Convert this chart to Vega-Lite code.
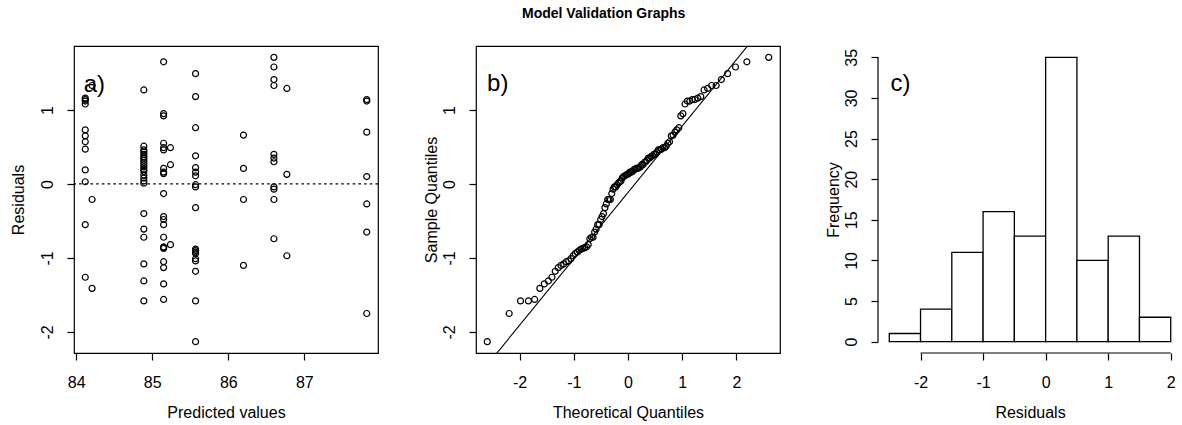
{
  "$schema": "https://vega.github.io/schema/vega-lite/v6.json",
  "autosize": {"type": "none"},
  "padding": {"left": 74, "top": 46, "right": 1108, "bottom": 72},
  "background": "white",
  "title": {"text": "Model Validation Graphs", "fontSize": 14, "fontWeight": "bold", "font": "Liberation Sans", "anchor": "middle", "offset": 24, "dx": 8, "color": "black"},
  "data": {"values": [
    {"p": 85.57, "r": -2.13, "q": -2.597},
    {"p": 87.82, "r": -1.75, "q": -2.193},
    {"p": 84.89, "r": -1.58, "q": -1.984},
    {"p": 85.57, "r": -1.58, "q": -1.838},
    {"p": 85.15, "r": -1.56, "q": -1.723},
    {"p": 84.21, "r": -1.41, "q": -1.627},
    {"p": 85.15, "r": -1.35, "q": -1.544},
    {"p": 84.89, "r": -1.31, "q": -1.470},
    {"p": 84.12, "r": -1.26, "q": -1.404},
    {"p": 85.57, "r": -1.18, "q": -1.343},
    {"p": 85.15, "r": -1.13, "q": -1.287},
    {"p": 86.2, "r": -1.10, "q": -1.235},
    {"p": 84.89, "r": -1.08, "q": -1.186},
    {"p": 85.15, "r": -1.05, "q": -1.140},
    {"p": 85.57, "r": -1.04, "q": -1.095},
    {"p": 85.57, "r": -1.01, "q": -1.053},
    {"p": 86.77, "r": -0.97, "q": -1.013},
    {"p": 85.57, "r": -0.94, "q": -0.974},
    {"p": 85.57, "r": -0.92, "q": -0.937},
    {"p": 85.57, "r": -0.90, "q": -0.901},
    {"p": 85.57, "r": -0.88, "q": -0.866},
    {"p": 85.15, "r": -0.87, "q": -0.832},
    {"p": 85.15, "r": -0.86, "q": -0.799},
    {"p": 85.15, "r": -0.85, "q": -0.766},
    {"p": 85.24, "r": -0.82, "q": -0.735},
    {"p": 86.6, "r": -0.74, "q": -0.704},
    {"p": 84.89, "r": -0.72, "q": -0.674},
    {"p": 85.15, "r": -0.72, "q": -0.645},
    {"p": 87.82, "r": -0.65, "q": -0.616},
    {"p": 84.89, "r": -0.61, "q": -0.588},
    {"p": 84.12, "r": -0.55, "q": -0.560},
    {"p": 85.15, "r": -0.55, "q": -0.533},
    {"p": 85.15, "r": -0.48, "q": -0.505},
    {"p": 85.15, "r": -0.44, "q": -0.479},
    {"p": 84.89, "r": -0.40, "q": -0.452},
    {"p": 85.57, "r": -0.32, "q": -0.426},
    {"p": 87.82, "r": -0.27, "q": -0.401},
    {"p": 84.21, "r": -0.21, "q": -0.375},
    {"p": 86.2, "r": -0.21, "q": -0.350},
    {"p": 86.6, "r": -0.21, "q": -0.325},
    {"p": 85.15, "r": -0.13, "q": -0.300},
    {"p": 86.6, "r": -0.07, "q": -0.275},
    {"p": 85.57, "r": -0.04, "q": -0.251},
    {"p": 86.6, "r": -0.04, "q": -0.227},
    {"p": 85.57, "r": -0.01, "q": -0.202},
    {"p": 84.89, "r": 0.01, "q": -0.178},
    {"p": 84.12, "r": 0.03, "q": -0.154},
    {"p": 84.89, "r": 0.04, "q": -0.130},
    {"p": 84.89, "r": 0.08, "q": -0.107},
    {"p": 87.82, "r": 0.10, "q": -0.083},
    {"p": 85.57, "r": 0.11, "q": -0.059},
    {"p": 84.89, "r": 0.12, "q": -0.035},
    {"p": 86.77, "r": 0.13, "q": -0.012},
    {"p": 85.15, "r": 0.14, "q": 0.012},
    {"p": 85.15, "r": 0.16, "q": 0.035},
    {"p": 85.57, "r": 0.16, "q": 0.059},
    {"p": 84.89, "r": 0.17, "q": 0.083},
    {"p": 84.12, "r": 0.19, "q": 0.107},
    {"p": 84.89, "r": 0.20, "q": 0.130},
    {"p": 85.15, "r": 0.21, "q": 0.154},
    {"p": 86.2, "r": 0.21, "q": 0.178},
    {"p": 85.57, "r": 0.22, "q": 0.202},
    {"p": 84.89, "r": 0.23, "q": 0.227},
    {"p": 84.89, "r": 0.26, "q": 0.251},
    {"p": 85.24, "r": 0.26, "q": 0.275},
    {"p": 84.89, "r": 0.29, "q": 0.300},
    {"p": 86.6, "r": 0.30, "q": 0.325},
    {"p": 84.89, "r": 0.32, "q": 0.350},
    {"p": 84.89, "r": 0.35, "q": 0.375},
    {"p": 86.6, "r": 0.35, "q": 0.401},
    {"p": 84.89, "r": 0.37, "q": 0.426},
    {"p": 85.57, "r": 0.38, "q": 0.452},
    {"p": 84.89, "r": 0.40, "q": 0.479},
    {"p": 86.6, "r": 0.40, "q": 0.505},
    {"p": 84.89, "r": 0.43, "q": 0.533},
    {"p": 84.89, "r": 0.46, "q": 0.560},
    {"p": 85.15, "r": 0.46, "q": 0.588},
    {"p": 84.12, "r": 0.47, "q": 0.616},
    {"p": 85.15, "r": 0.49, "q": 0.645},
    {"p": 85.24, "r": 0.49, "q": 0.674},
    {"p": 84.89, "r": 0.51, "q": 0.704},
    {"p": 85.15, "r": 0.55, "q": 0.735},
    {"p": 84.12, "r": 0.57, "q": 0.766},
    {"p": 84.12, "r": 0.65, "q": 0.799},
    {"p": 86.2, "r": 0.66, "q": 0.832},
    {"p": 87.82, "r": 0.70, "q": 0.866},
    {"p": 84.12, "r": 0.73, "q": 0.901},
    {"p": 85.57, "r": 0.76, "q": 0.937},
    {"p": 85.15, "r": 0.92, "q": 0.974},
    {"p": 85.15, "r": 0.95, "q": 1.013},
    {"p": 84.12, "r": 1.08, "q": 1.053},
    {"p": 84.12, "r": 1.12, "q": 1.095},
    {"p": 87.82, "r": 1.12, "q": 1.140},
    {"p": 84.12, "r": 1.14, "q": 1.186},
    {"p": 87.82, "r": 1.14, "q": 1.235},
    {"p": 84.12, "r": 1.16, "q": 1.287},
    {"p": 85.57, "r": 1.18, "q": 1.343},
    {"p": 84.89, "r": 1.27, "q": 1.404},
    {"p": 86.77, "r": 1.29, "q": 1.470},
    {"p": 84.21, "r": 1.33, "q": 1.544},
    {"p": 86.6, "r": 1.33, "q": 1.627},
    {"p": 86.6, "r": 1.41, "q": 1.723},
    {"p": 85.57, "r": 1.49, "q": 1.838},
    {"p": 86.6, "r": 1.58, "q": 1.984},
    {"p": 85.15, "r": 1.65, "q": 2.193},
    {"p": 86.6, "r": 1.71, "q": 2.597}
  ]},
  "spacing": 98,
  "bounds": "flush",
  "hconcat": [
    {
      "width": 304,
      "height": 307,
      "layer": [
        {
          "data": {"values": [{}]},
          "mark": {"type": "rule", "strokeDash": [2.5, 3.2], "strokeWidth": 1.3, "color": "black"},
          "encoding": {"y": {"datum": 0, "type": "quantitative", "scale": {"domain": [-2.2836, 1.8636], "nice": false, "zero": false}}}
        },
        {
          "mark": {"type": "point", "shape": "circle", "filled": false, "color": "black", "size": 36, "strokeWidth": 1.2, "opacity": 1},
          "encoding": {
            "x": {"field": "p", "type": "quantitative", "scale": {"domain": [83.972, 87.968], "nice": false, "zero": false}, "axis": {"values": [84, 85, 86, 87], "title": "Predicted values"}},
            "y": {"field": "r", "type": "quantitative", "scale": {"domain": [-2.2836, 1.8636], "nice": false, "zero": false}, "axis": {"values": [-2, -1, 0, 1], "title": "Residuals", "titlePadding": 13}}
          }
        },
        {
          "data": {"values": [{}]},
          "mark": {"type": "text", "text": "a)", "fontSize": 24, "align": "left", "baseline": "alphabetic", "color": "black"},
          "encoding": {"x": {"datum": 84.1, "type": "quantitative"}, "y": {"datum": 1.24, "type": "quantitative"}}
        }
      ]
    },
    {
      "width": 304,
      "height": 307,
      "layer": [
        {
          "data": {"values": [{"tx": -2.9, "ty": -2.716}, {"tx": 2.9, "ty": 2.486}]},
          "mark": {"type": "line", "color": "black", "strokeWidth": 1.1, "clip": true},
          "encoding": {
            "x": {"field": "tx", "type": "quantitative", "scale": {"domain": [-2.805, 2.805], "nice": false, "zero": false}},
            "y": {"field": "ty", "type": "quantitative", "scale": {"domain": [-2.2836, 1.8636], "nice": false, "zero": false}}
          }
        },
        {
          "mark": {"type": "point", "shape": "circle", "filled": false, "color": "black", "size": 36, "strokeWidth": 1.2, "opacity": 1},
          "encoding": {
            "x": {"field": "q", "type": "quantitative", "scale": {"domain": [-2.805, 2.805], "nice": false, "zero": false}, "axis": {"values": [-2, -1, 0, 1, 2], "title": "Theoretical Quantiles"}},
            "y": {"field": "r", "type": "quantitative", "scale": {"domain": [-2.2836, 1.8636], "nice": false, "zero": false}, "axis": {"values": [-2, -1, 0, 1], "title": "Sample Quantiles", "titlePadding": 2}}
          }
        },
        {
          "data": {"values": [{}]},
          "mark": {"type": "text", "text": "b)", "fontSize": 24, "align": "left", "baseline": "alphabetic", "color": "black"},
          "encoding": {"x": {"datum": -2.6, "type": "quantitative"}, "y": {"datum": 1.26, "type": "quantitative"}}
        }
      ]
    },
    {
      "width": 304,
      "height": 307,
      "view": {"stroke": null},
      "layer": [
        {
          "transform": [
            {"bin": {"extent": [-2.5, 2], "step": 0.5}, "field": "r", "as": ["b0", "b1"]},
            {"aggregate": [{"op": "count", "as": "n"}], "groupby": ["b0", "b1"]}
          ],
          "mark": {"type": "bar", "fill": "white", "stroke": "black", "strokeWidth": 1.3},
          "encoding": {
            "x": {"field": "b0", "type": "quantitative", "scale": {"domain": [-2.68, 2.18], "nice": false, "zero": false}, "axis": {"values": [-2, -1, 0, 1, 2], "title": "Residuals"}},
            "x2": {"field": "b1"},
            "y": {"field": "n", "type": "quantitative", "scale": {"domain": [-1.4, 36.4], "nice": false, "zero": false}, "axis": {"values": [0, 5, 10, 15, 20, 25, 30, 35], "title": "Frequency", "titlePadding": 2}},
            "y2": {"datum": 0}
          }
        },
        {
          "data": {"values": [{}]},
          "mark": {"type": "rule", "color": "black", "strokeWidth": 1.2},
          "encoding": {"x": {"datum": -2, "type": "quantitative"}, "x2": {"datum": 2}, "y": {"datum": -1.4, "type": "quantitative"}}
        },
        {
          "data": {"values": [{}]},
          "mark": {"type": "rule", "color": "black", "strokeWidth": 1.2},
          "encoding": {"x": {"datum": -2.68, "type": "quantitative"}, "y": {"datum": 0, "type": "quantitative"}, "y2": {"datum": 35}}
        },
        {
          "data": {"values": [{}]},
          "mark": {"type": "text", "text": "c)", "fontSize": 24, "align": "left", "baseline": "alphabetic", "color": "black"},
          "encoding": {"x": {"datum": -2.48, "type": "quantitative"}, "y": {"datum": 30.9, "type": "quantitative"}}
        }
      ]
    }
  ],
  "config": {
    "font": "Liberation Sans",
    "view": {"stroke": "black", "strokeWidth": 1.2},
    "axis": {"domain": false, "grid": false, "ticks": true, "tickColor": "black", "tickSize": 7, "tickWidth": 1.2, "labelColor": "black", "labelFontSize": 16, "labelFont": "Liberation Sans", "titleFont": "Liberation Sans", "titleFontSize": 16, "titleFontWeight": "normal", "titleColor": "black", "labelFlush": false, "labelOverlap": false, "labelExpr": "'' + datum.value"},
    "axisX": {"labelPadding": 14, "titlePadding": 14},
    "axisY": {"labelAngle": -90, "labelAlign": "center", "labelBaseline": "alphabetic", "labelPadding": 15, "titlePadding": 14}
  }
}
